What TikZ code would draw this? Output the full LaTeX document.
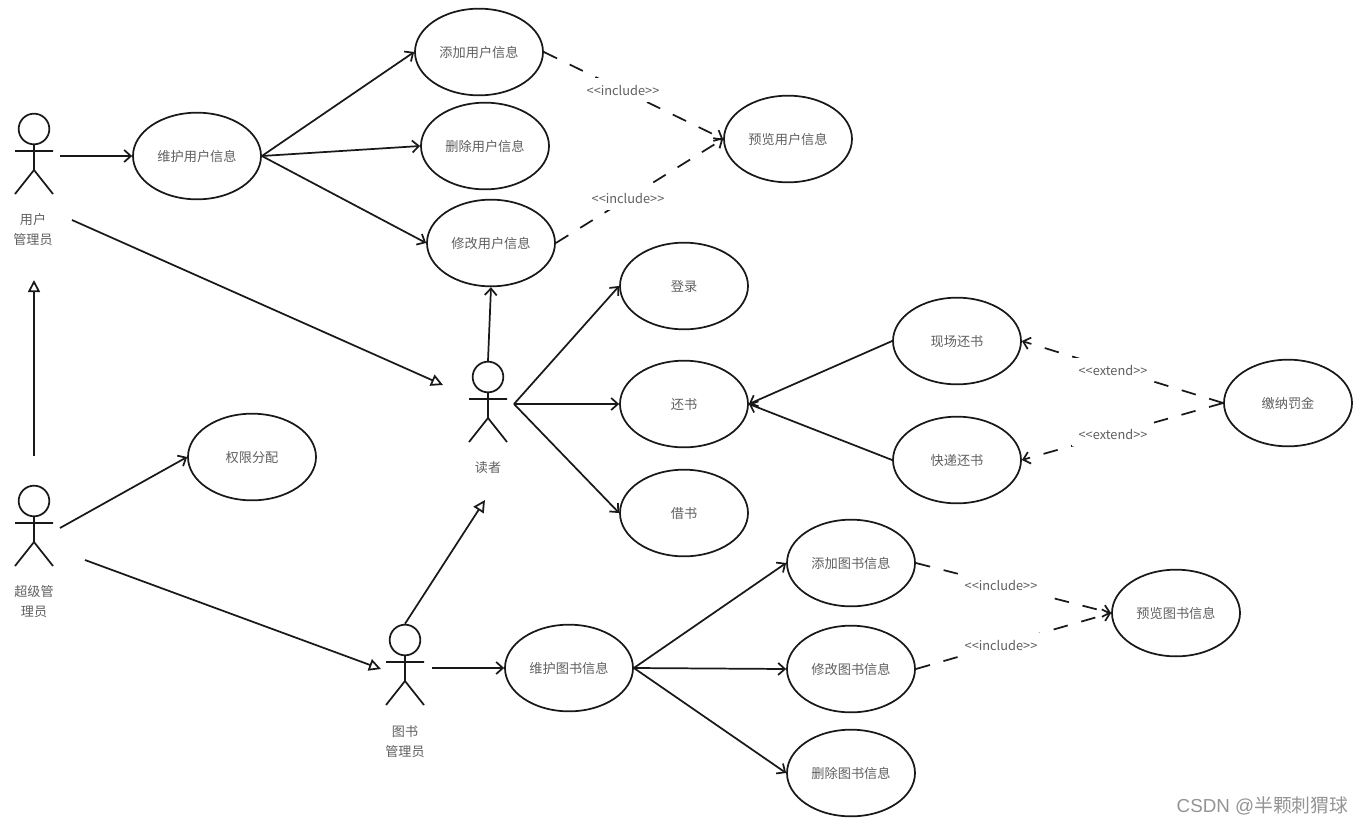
\documentclass[tikz,border=0pt]{standalone}
\usepackage{fontspec}
\setmainfont{Noto Sans CJK SC}
\newfontfamily\wmfont{Liberation Sans}
\newfontfamily\wmcjk{Noto Sans CJK SC}
\definecolor{txtgray}{RGB}{95,95,95}
\definecolor{linedark}{RGB}{25,25,25}
\usetikzlibrary{shapes.geometric, arrows.meta}

\begin{document}
\begin{tikzpicture}[
  x=0.75pt, y=-0.75pt,
  usecase/.style={ellipse, draw=linedark, line width=1.3pt, minimum width=96pt, minimum height=65pt,
                  inner sep=0pt, font=\fontsize{9.9}{12}\selectfont, text=txtgray,
                  text height=9.5pt, text depth=1.2pt},
  role/.style={align=center, font=\fontsize{9.8}{15}\selectfont, text=txtgray, inner sep=0pt},
  stereo/.style={fill=white, inner xsep=5pt, inner ysep=5pt, font=\fontsize{9.6}{11}\selectfont, text=txtgray},
  arr/.style={-{Straight Barb[length=5pt, width=9pt]}, line width=1.3pt, linedark},
  gen/.style={-{Triangle[open, length=9pt, width=9pt]}, line width=1.3pt, linedark},
  dep/.style={arr, dash pattern=on 11pt off 10.5pt},
  actor/.pic={
    \node[circle, draw=linedark, line width=1.3pt, minimum size=23pt, inner sep=0pt] (head) at (0,0) {};
    \draw[line width=1.3pt, linedark] (head.south) -- (0,41) (-19,22) -- (19,22)
      (-19,65) -- (0,41) -- (19,65);
  }
]
\useasboundingbox (0,0) rectangle (1364,825);

% ---- Actors ----
\pic (useradmin) at (34,129) {actor};
\pic (superadmin) at (34,501) {actor};
\pic (reader) at (488,377) {actor};
\pic (bookadmin) at (405,640) {actor};
\node[role] (useradminlbl) at (33,229.5) {用户\\管理员};
\node[role] (superadminlbl) at (34,601.5) {超级管\\理员};
\node[role] (readerlbl) at (488,467.5) {读者};
\node[role] (bookadminlbl) at (405,741.5) {图书\\管理员};

% ---- Free line ends near the actors ----
\coordinate (useradmin_r) at (60,156);
\coordinate (useradmin_d) at (72,220);
\coordinate (useradmin_u) at (34,280);
\coordinate (superadmin_u) at (34,456);
\coordinate (superadmin_r) at (60,528);
\coordinate (superadmin_d) at (85,560);
\coordinate (reader_l) at (443,385);
\coordinate (reader_r) at (514,404);
\coordinate (reader_b) at (485,500);
\coordinate (bookadmin_l) at (381,669);
\coordinate (bookadmin_r) at (432,668);

% ---- User info ----
\node[usecase] (userkeep) at (197,156) {维护用户信息};
\node[usecase] (useradd) at (479,52) {添加用户信息};
\node[usecase] (userdel) at (485,146) {删除用户信息};
\node[usecase] (useredit) at (491,243) {修改用户信息};
\node[usecase] (userview) at (788,139) {预览用户信息};

\draw[arr] (useradmin_r) -- (userkeep);
\draw[arr] (userkeep.east) -- (useradd.west);
\draw[arr] (userkeep.east) -- (userdel.west);
\draw[arr] (userkeep.east) -- (useredit.west);
\draw[dep] (useradd.east) -- (userview.west);
\draw[dep] (useredit.east) -- (userview.west);
\node[stereo] (inc1) at (623,90) {{<}{<}include{>}{>}};
\node[stereo] (inc2) at (628,198) {{<}{<}include{>}{>}};

% ---- Reader ----
\node[usecase] (login) at (684,286) {登录};
\node[usecase] (giveback) at (684,404) {还书};
\node[usecase] (borrow) at (684,513) {借书};
\node[usecase] (backsite) at (957,341) {现场还书};
\node[usecase] (backpost) at (957,460) {快递还书};
\node[usecase] (fine) at (1288,403) {缴纳罚金};

\draw[gen] (useradmin_d) -- (reader_l);
\draw[arr] (readerhead.north) -- (useredit.south);
\draw[arr] (reader_r) -- (login.west);
\draw[arr] (reader_r) -- (giveback.west);
\draw[arr] (reader_r) -- (borrow.west);
\draw[arr] (backsite.west) -- (giveback.east);
\draw[arr] (backpost.west) -- (giveback.east);
\draw[dep] (fine.west) -- (backsite.east);
\draw[dep] (fine.west) -- (backpost.east);
\node[stereo] (ext1) at (1113,370) {{<}{<}extend{>}{>}};
\node[stereo] (ext2) at (1113,434) {{<}{<}extend{>}{>}};

% ---- Super admin ----
\node[usecase] (rights) at (252,457) {权限分配};
\draw[gen] (superadmin_u) -- (useradmin_u);
\draw[arr] (superadmin_r) -- (rights.west);
\draw[gen] (superadmin_d) -- (bookadmin_l);

% ---- Book info ----
\node[usecase] (bookkeep) at (569,668) {维护图书信息};
\node[usecase] (bookadd) at (851,563) {添加图书信息};
\node[usecase] (bookedit) at (851,669) {修改图书信息};
\node[usecase] (bookdel) at (851,773) {删除图书信息};
\node[usecase] (bookview) at (1176,613) {预览图书信息};

\draw[gen] (bookadminhead.north) -- (reader_b);
\draw[arr] (bookadmin_r) -- (bookkeep);
\draw[arr] (bookkeep.east) -- (bookadd.west);
\draw[arr] (bookkeep.east) -- (bookedit.west);
\draw[arr] (bookkeep.east) -- (bookdel.west);
\draw[dep] (bookadd.east) -- (bookview.west);
\draw[dep] (bookedit.east) -- (bookview.west);
\node[stereo] (inc3) at (1001,585) {{<}{<}include{>}{>}};
\node[stereo] (inc4) at (1001,645) {{<}{<}include{>}{>}};

% ---- Watermark ----
\node[text=gray!85, inner sep=0pt, font=\fontsize{14.1}{16}\selectfont] (mark) at (1262.5,806) {\wmfont CSDN @\wmcjk 半颗刺猬球};
\end{tikzpicture}
\end{document}
